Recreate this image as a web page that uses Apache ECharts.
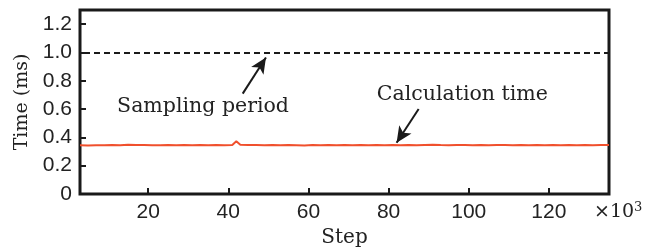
<!DOCTYPE html>
<html><head><meta charset="utf-8">
<script src="https://cdn.jsdelivr.net/npm/echarts@6/dist/echarts.min.js"></script>
<style>html,body{margin:0;padding:0;background:#fff}#c{width:646px;height:250px}</style>
</head><body><div id="c"></div>
<script>
// Data (step in thousands, time in ms)
const steps = [3,5,7,9,11,13,15,17,19,21,23,25,27,29,31,33,35,37,39,41,42,43,45,47,49,51,53,55,57,59,61,63,65,67,69,71,73,75,77,79,81,83,85,87,89,91,93,95,97,99,101,103,105,107,109,111,113,115,117,119,121,123,125,127,129,131,133,135];
const calcTime = [0.344,0.343,0.344,0.345,0.347,0.344,0.348,0.346,0.347,0.344,0.345,0.346,0.345,0.346,0.345,0.346,0.345,0.346,0.345,0.347,0.372,0.348,0.346,0.347,0.345,0.346,0.344,0.346,0.345,0.343,0.346,0.345,0.347,0.345,0.346,0.344,0.346,0.345,0.347,0.344,0.346,0.345,0.346,0.345,0.347,0.348,0.346,0.345,0.347,0.346,0.345,0.347,0.344,0.347,0.346,0.345,0.347,0.344,0.346,0.345,0.347,0.344,0.346,0.345,0.346,0.345,0.346,0.346];
const samplingPeriod = 1.0;
const xTicks = [20,40,60,80,100,120];
const yTicks = [0,0.2,0.4,0.6,0.8,1.0,1.2];
const annotations = [
  {text:'Sampling period', at:[33.7,0.618], arrowFrom:[43.6,0.709], arrowTo:[49.4,0.965]},
  {text:'Calculation time', at:[98.4,0.70], arrowFrom:[87.5,0.60], arrowTo:[82,0.362]}
];

const serif = '"DejaVu Serif", "Liberation Serif", serif';
const sans = '"Liberation Sans", Arial, sans-serif';
const chart = echarts.init(document.getElementById('c'), null, {renderer:'canvas'});
chart.setOption({
  animation:false,
  grid:{left:80,right:37,top:10,bottom:56,outerBoundsMode:'none',containLabel:false,show:true,borderColor:'#1a1a1a',borderWidth:3,backgroundColor:'transparent'},
  xAxis:{type:'value',min:3,max:135,
    name:'Step',nameLocation:'middle',nameGap:34,
    nameTextStyle:{fontFamily:serif,fontSize:20,color:'#222'},
    axisLine:{show:false},
    axisTick:{show:true,inside:true,length:6,lineStyle:{color:'#1a1a1a',width:2},customValues:xTicks},
    axisLabel:{fontFamily:sans,fontSize:21,color:'#222',margin:8,customValues:xTicks},
    splitLine:{show:false}},
  yAxis:{type:'value',min:0,max:1.3,
    name:'Time (ms)',nameLocation:'middle',nameGap:48,
    nameTextStyle:{fontFamily:serif,fontSize:19,color:'#222'},
    axisLine:{show:false},
    axisTick:{show:true,inside:true,length:6,lineStyle:{color:'#1a1a1a',width:2},customValues:yTicks},
    axisLabel:{fontFamily:sans,fontSize:21,color:'#222',margin:8,customValues:yTicks,
      formatter:v=>v===0?'0':v.toFixed(1)},
    splitLine:{show:false}},
  graphic:[{type:'text',left:594,top:201,style:{
    text:'{a|×10}{b|3}',rich:{a:{fontFamily:serif,fontSize:19,fill:'#222'},b:{fontFamily:serif,fontSize:13,fill:'#222',verticalAlign:'top',padding:[0,0,10,0]}}}}],
  series:[
    {type:'line',data:steps.map((s,i)=>[s,calcTime[i]]),showSymbol:false,
     lineStyle:{color:'#f0502d',width:2},
     markLine:{silent:true,symbol:['none','none'],
       data:[{yAxis:samplingPeriod,lineStyle:{type:[6,4],dashOffset:-4,color:'#1a1a1a',width:2},label:{show:false}}]}},
    {type:'line',data:[],
     markLine:{silent:true,symbol:['none','arrow'],symbolSize:[11,16],
       lineStyle:{type:'solid',color:'#1a1a1a',width:2},label:{show:false},
       data:annotations.map(a=>[{coord:a.arrowFrom},{coord:a.arrowTo}])},
     markPoint:{silent:true,symbol:'circle',symbolSize:0,
       label:{show:true,position:'inside',fontFamily:serif,fontSize:20.5,color:'#222',formatter:p=>p.name},
       data:annotations.map(a=>({name:a.text,coord:a.at}))}}
  ]
});
</script></body></html>
